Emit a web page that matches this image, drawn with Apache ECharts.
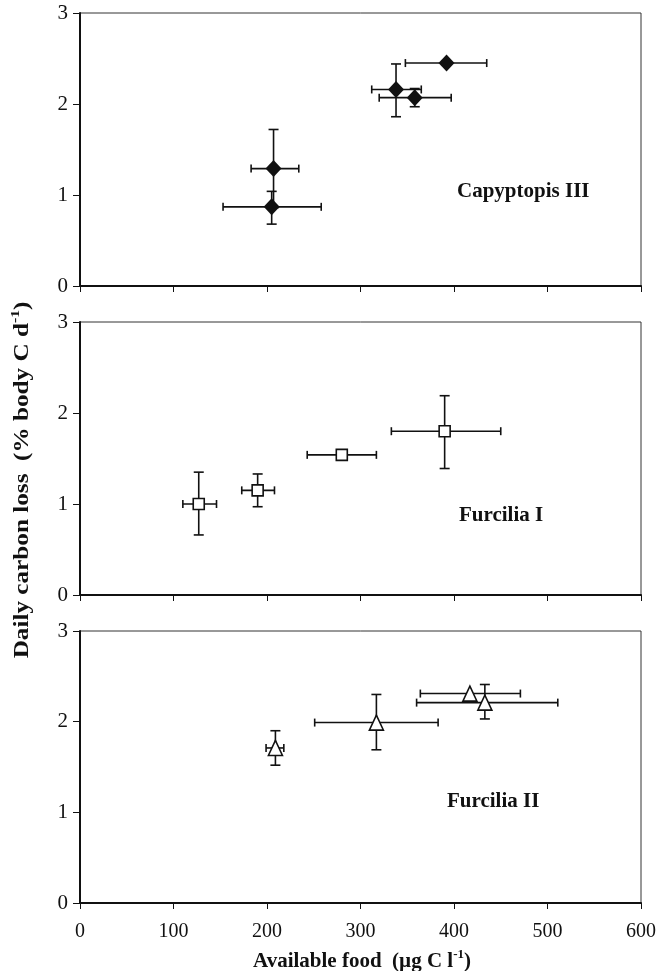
<!DOCTYPE html>
<html><head><meta charset="utf-8">
<script src="https://cdn.jsdelivr.net/npm/echarts@6/dist/echarts.min.js"></script>
<style>html,body{margin:0;padding:0;background:#fff}#c{width:660px;height:971px}</style>
</head><body><div id="c"></div><script>
// ---- data ----
const xMin = 0, xMax = 600, xStep = 100;
const yMin = 0, yMax = 3, yStep = 1;
const panelLabels = ['Capyptopis III', 'Furcilia I', 'Furcilia II'];

// Calyptopis III
const calX   = [392, 338, 358, 207, 205];
const calY   = [2.45, 2.16, 2.07, 1.29, 0.87];
const calXLo = [348, 312, 320, 183, 153];
const calXHi = [435, 365, 397, 234, 258];
const calYLo = [2.45, 1.86, 1.97, 0.86, 0.68];
const calYHi = [2.45, 2.44, 2.17, 1.72, 1.04];

// Furcilia I
const f1X   = [127, 190, 280, 390];
const f1Y   = [1.00, 1.15, 1.54, 1.80];
const f1XLo = [110, 173, 243, 333];
const f1XHi = [146, 208, 317, 450];
const f1YLo = [0.66, 0.97, 1.54, 1.39];
const f1YHi = [1.35, 1.33, 1.54, 2.19];

// Furcilia II
const f2X   = [209, 317, 417, 433];
const f2Y   = [1.71, 1.99, 2.31, 2.21];
const f2XLo = [199, 251, 364, 360];
const f2XHi = [218, 383, 471, 511];
const f2YLo = [1.52, 1.69, 2.31, 2.03];
const f2YHi = [1.90, 2.30, 2.31, 2.41];

// ---- build ----
const FONT = '"Liberation Serif","Times New Roman",serif';
const INK = '#111';

function rows(X, Y, XL, XH, YL, YH) {
  return X.map((x, i) => [x, Y[i], XL[i], XH[i], YL[i], YH[i]]);
}
const panels = [
  { data: rows(calX, calY, calXLo, calXHi, calYLo, calYHi), symbol: 'diamond', size: [16, 17], fill: INK },
  { data: rows(f1X, f1Y, f1XLo, f1XHi, f1YLo, f1YHi), symbol: 'rect', size: [11, 11], fill: '#fff' },
  { data: rows(f2X, f2Y, f2XLo, f2XHi, f2YLo, f2YHi), symbol: 'triangle', size: [14, 15], fill: '#fff' }
];
const gridTops = [13, 322, 631];
const gridH = [273, 273, 272];

function errRender(params, api) {
  const x = api.value(0), y = api.value(1);
  const a = api.coord([api.value(2), y]), b = api.coord([api.value(3), y]);
  const c = api.coord([x, api.value(4)]), d = api.coord([x, api.value(5)]);
  const st = { stroke: INK, lineWidth: 1.6 };
  const ch = [];
  if (Math.abs(b[0] - a[0]) > 0.5) {
    ch.push({ type: 'line', shape: { x1: a[0], y1: a[1], x2: b[0], y2: b[1] }, style: st });
    ch.push({ type: 'line', shape: { x1: a[0], y1: a[1] - 4, x2: a[0], y2: a[1] + 4 }, style: st });
    ch.push({ type: 'line', shape: { x1: b[0], y1: b[1] - 4, x2: b[0], y2: b[1] + 4 }, style: st });
  }
  if (Math.abs(d[1] - c[1]) > 0.5) {
    ch.push({ type: 'line', shape: { x1: c[0], y1: c[1], x2: d[0], y2: d[1] }, style: st });
    ch.push({ type: 'line', shape: { x1: c[0] - 5, y1: c[1], x2: c[0] + 5, y2: c[1] }, style: st });
    ch.push({ type: 'line', shape: { x1: d[0] - 5, y1: d[1], x2: d[0] + 5, y2: d[1] }, style: st });
  }
  return { type: 'group', children: ch };
}

const grid = [], xAxis = [], yAxis = [], series = [];
panels.forEach((p, i) => {
  grid.push({ left: 80, width: 561, top: gridTops[i], height: gridH[i], show: true,
    borderColor: '#333', borderWidth: 1, backgroundColor: 'transparent' });
  xAxis.push({ gridIndex: i, type: 'value', min: xMin, max: xMax, interval: xStep,
    axisLine: { show: true, onZero: false, lineStyle: { color: INK, width: 2 } },
    axisTick: { show: true, length: 6, lineStyle: { color: INK, width: 1 } },
    splitLine: { show: false },
    axisLabel: { show: i === 2, margin: 19, fontFamily: FONT, fontSize: 20, color: INK } });
  yAxis.push({ gridIndex: i, type: 'value', min: yMin, max: yMax, interval: yStep,
    axisLine: { show: true, onZero: false, lineStyle: { color: INK, width: 2 } },
    axisTick: { show: true, length: 7, lineStyle: { color: INK, width: 1 } },
    splitLine: { show: false },
    axisLabel: { margin: 12, fontFamily: FONT, fontSize: 21, color: INK } });
  series.push({ type: 'custom', xAxisIndex: i, yAxisIndex: i, renderItem: errRender,
    data: p.data, z: 2, silent: true });
  series.push({ type: 'scatter', xAxisIndex: i, yAxisIndex: i, symbol: p.symbol, symbolSize: p.size,
    data: p.data.map(r => [r[0], r[1]]), z: 3,
    itemStyle: { color: p.fill, borderColor: INK, borderWidth: p.fill === INK ? 0 : 1.6, opacity: 1 } });
});

const labelPos = [[457, 193], [459, 517], [447, 803]];
const graphic = panelLabels.map((t, i) => ({
  type: 'text', left: labelPos[i][0], top: labelPos[i][1] - 12,
  style: { text: t, font: 'bold 21px ' + FONT, fill: INK }
}));
graphic.push({
  type: 'text', x: 21, y: 480, rotation: Math.PI / 2, scaleX: 1.2,
  style: { text: '{m|Daily carbon loss  (% body C d}{s|-1}{m|)}', align: 'center', verticalAlign: 'middle',
    rich: { m: { font: 'bold 21px ' + FONT, fill: INK, verticalAlign: 'bottom', lineHeight: 24 },
            s: { font: 'bold 13px ' + FONT, fill: INK, verticalAlign: 'top', lineHeight: 24 } } }
});
graphic.push({
  type: 'text', x: 362, y: 960,
  style: { text: '{m|Available food  (µg C l}{s|-1}{m|)}', align: 'center', verticalAlign: 'middle',
    rich: { m: { font: 'bold 21px ' + FONT, fill: INK, verticalAlign: 'bottom', lineHeight: 24 },
            s: { font: 'bold 13px ' + FONT, fill: INK, verticalAlign: 'top', lineHeight: 24 } } }
});

const chart = echarts.init(document.getElementById('c'), null, { renderer: 'canvas' });
chart.setOption({ animation: false, backgroundColor: '#fff', grid, xAxis, yAxis, series, graphic });
</script></body></html>
